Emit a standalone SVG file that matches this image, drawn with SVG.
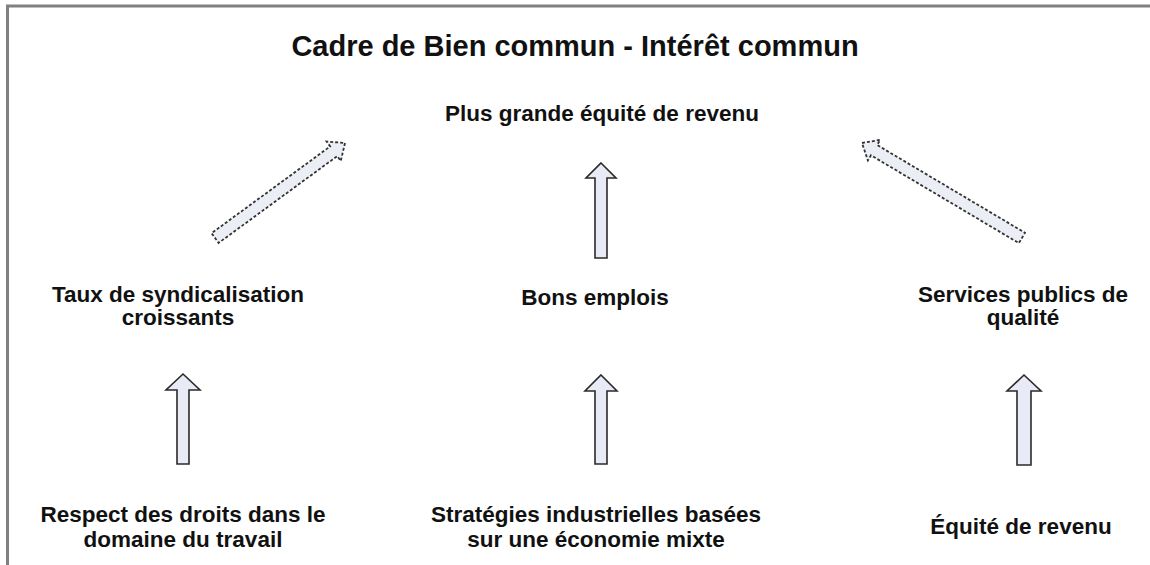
<svg xmlns="http://www.w3.org/2000/svg" width="1150" height="565" viewBox="0 0 1150 565">
<style>
text{font-family:"Liberation Sans",Arial,sans-serif;font-weight:bold;fill:#111;text-anchor:middle}
.t{font-size:29px}
.l{font-size:22.5px}
.a{fill:#e8ebf6;stroke:#2a2a2a;stroke-width:1.6}
.d{fill:#eceef6;stroke:#333;stroke-width:1.8;stroke-dasharray:3 2}
</style>
<rect width="1150" height="565" fill="#fff"/>
<path d="M7.5,565 V6 H1150" fill="none" stroke="#808080" stroke-width="3"/>
<g id="title"><text class="t" x="575" y="56">Cadre de Bien commun - Intérêt commun</text></g>
<g id="equite-revenu-plus"><text class="l" x="602" y="121">Plus grande équité de revenu</text></g>
<g id="syndicalisation"><text class="l" x="178" y="302">Taux de syndicalisation</text><text class="l" x="178" y="325">croissants</text></g>
<g id="bons-emplois"><text class="l" x="595" y="305">Bons emplois</text></g>
<g id="services-publics"><text class="l" x="1023" y="302">Services publics de</text><text class="l" x="1023" y="325">qualité</text></g>
<g id="respect-droits"><text class="l" x="183" y="522">Respect des droits dans le</text><text class="l" x="183" y="547">domaine du travail</text></g>
<g id="strategies"><text class="l" x="596" y="522">Stratégies industrielles basées</text><text class="l" x="596" y="547">sur une économie mixte</text></g>
<g id="equite-revenu"><text class="l" x="1021" y="534">Équité de revenu</text></g>
<g id="connectors">
<path class="d" transform="translate(345,143) rotate(53.8)" d="M0,0 L12,14 L6,14 L6,161 L-6,161 L-6,14 L-12,14 Z"/>
<path class="d" transform="translate(862,143) rotate(-59.3)" d="M0,0 L12,14 L6,14 L6,186 L-6,186 L-6,14 L-12,14 Z"/>
<path class="a" transform="translate(601,163)" d="M0,0 L15,15 L6,15 L6,95 L-6,95 L-6,15 L-15,15 Z"/>
<path class="a" transform="translate(183,374)" d="M0,0 L17,16 L6,16 L6,90 L-6,90 L-6,16 L-17,16 Z"/>
<path class="a" transform="translate(601,375)" d="M0,0 L16,16 L6,16 L6,89 L-6,89 L-6,16 L-16,16 Z"/>
<path class="a" transform="translate(1024,375)" d="M0,0 L17,16 L7,16 L7,90 L-7,90 L-7,16 L-17,16 Z"/>
</g>
</svg>
